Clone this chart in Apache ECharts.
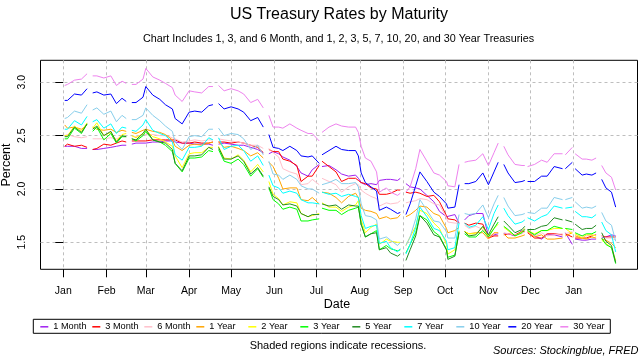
<!DOCTYPE html>
<html>
<head>
<meta charset="utf-8">
<script src="https://cdn.jsdelivr.net/npm/echarts@6/dist/echarts.min.js"></script>
<style>
html,body{margin:0;padding:0;background:#fff;}
#chart{width:640px;height:360px;}
</style>
</head>
<body>
<div id="chart"></div>
<script>
// ---- data ----
const dates = [
'2019-01-02','2019-01-04','2019-01-09','2019-01-14','2019-01-18','2019-01-21','2019-01-22','2019-01-25','2019-01-30','2019-02-04',
'2019-02-08','2019-02-12','2019-02-15','2019-02-18','2019-02-19','2019-02-22','2019-02-27','2019-03-01','2019-03-06','2019-03-11',
'2019-03-15','2019-03-20','2019-03-22','2019-03-27','2019-04-01','2019-04-05','2019-04-10','2019-04-15','2019-04-18','2019-04-19',
'2019-04-22','2019-04-26','2019-05-01','2019-05-06','2019-05-10','2019-05-15','2019-05-20','2019-05-24','2019-05-27','2019-05-28',
'2019-05-31','2019-06-04','2019-06-07','2019-06-12','2019-06-17','2019-06-20','2019-06-25','2019-06-28','2019-07-03','2019-07-04',
'2019-07-05','2019-07-10','2019-07-15','2019-07-19','2019-07-24','2019-07-29','2019-07-31','2019-08-02','2019-08-05','2019-08-09',
'2019-08-13','2019-08-15','2019-08-20','2019-08-23','2019-08-28','2019-08-30','2019-09-02','2019-09-03','2019-09-06','2019-09-10',
'2019-09-13','2019-09-18','2019-09-23','2019-09-27','2019-10-02','2019-10-03','2019-10-08','2019-10-11','2019-10-14','2019-10-15',
'2019-10-18','2019-10-23','2019-10-28','2019-11-01','2019-11-05','2019-11-08','2019-11-11','2019-11-12','2019-11-15','2019-11-20',
'2019-11-25','2019-11-27','2019-11-28','2019-11-29','2019-12-04','2019-12-09','2019-12-13','2019-12-18','2019-12-24','2019-12-25',
'2019-12-26','2019-12-31','2020-01-01','2020-01-02','2020-01-07','2020-01-10','2020-01-14','2020-01-17','2020-01-20','2020-01-21',
'2020-01-24','2020-01-28','2020-01-31'];

const month1 = [2.40,2.40,2.40,2.38,2.38,null,2.37,2.37,2.38,2.39,
2.40,2.41,2.41,null,2.42,2.43,2.43,2.43,2.44,2.44,
2.45,2.45,2.44,2.43,2.43,2.42,2.42,2.42,2.41,null,
2.42,2.43,2.42,2.41,2.41,2.39,2.37,2.34,null,2.33,
2.35,2.33,2.30,2.27,2.21,2.15,2.12,2.18,2.23,null,
2.21,2.22,2.18,2.14,2.12,2.13,2.10,2.06,2.04,2.05,
2.04,2.08,2.09,2.09,2.08,2.10,null,2.05,2.02,2.01,
2.00,1.94,1.88,1.79,1.74,1.74,1.76,1.68,null,1.71,
1.75,1.77,1.77,1.56,1.57,1.58,null,1.58,1.58,1.56,
1.61,1.62,null,1.62,1.56,1.53,1.57,1.57,1.55,null,
1.59,1.48,null,1.53,1.52,1.52,1.53,1.53,null,1.54,
1.55,1.57,1.56];

const month3 = [2.40,2.42,2.40,2.41,2.39,null,2.37,2.38,2.42,2.41,
2.43,2.45,2.44,null,2.45,2.45,2.45,2.45,2.46,2.46,
2.46,2.46,2.46,2.43,2.43,2.44,2.43,2.43,2.44,null,
2.44,2.44,2.43,2.44,2.43,2.41,2.39,2.34,null,2.37,
2.35,2.35,2.28,2.26,2.22,2.07,2.12,2.12,2.22,null,
2.26,2.21,2.16,2.07,2.10,2.10,2.08,2.06,2.05,2.01,
2.00,1.95,1.95,1.96,1.99,1.99,null,1.97,1.96,1.97,
1.96,1.93,1.94,1.88,1.75,1.72,1.71,1.68,null,1.68,
1.66,1.68,1.67,1.54,1.56,1.56,null,1.57,1.58,1.57,
1.60,1.60,null,1.59,1.54,1.54,1.58,1.58,1.57,null,
1.58,1.55,null,1.54,1.54,1.54,1.56,1.57,null,1.56,
1.55,1.55,1.55];

const month6 = [2.50,2.51,2.49,2.48,2.49,null,2.47,2.47,2.47,2.48,
2.47,2.49,2.49,null,2.49,2.49,2.51,2.51,2.51,2.50,
2.50,2.48,2.47,2.44,2.45,2.46,2.45,2.46,2.46,null,
2.47,2.46,2.45,2.44,2.43,2.41,2.41,2.38,null,2.38,
2.34,2.30,2.19,2.16,2.14,2.04,2.05,2.09,2.04,null,
2.10,2.07,2.04,1.97,2.02,2.05,2.04,1.99,1.96,1.93,
1.91,1.84,1.87,1.86,1.87,1.89,null,1.87,1.88,1.89,
1.91,1.90,1.86,1.85,1.73,1.69,1.68,1.68,null,1.66,
1.63,1.65,1.62,1.55,1.58,1.59,null,1.59,1.58,1.57,
1.58,1.60,null,1.60,1.56,1.59,1.56,1.57,1.58,null,
1.58,1.60,null,1.57,1.56,1.56,1.57,1.56,null,1.56,
1.54,1.54,1.52];

const year1 = [2.60,2.57,2.58,2.56,2.60,null,2.58,2.56,2.55,2.56,
2.53,2.55,2.54,null,2.53,2.52,2.55,2.56,2.54,2.53,
2.51,2.46,2.40,2.36,2.41,2.42,2.41,2.43,2.44,null,
2.44,2.39,2.40,2.38,2.36,2.31,2.34,2.29,null,2.25,
2.21,2.10,2.00,2.01,2.01,1.90,1.89,1.92,1.86,null,
1.97,1.96,1.92,1.87,1.93,1.96,1.92,1.82,1.80,1.79,
1.77,1.72,1.74,1.72,1.73,1.76,null,1.74,1.76,1.80,
1.84,1.83,1.77,1.75,1.63,1.59,1.61,1.64,null,1.60,
1.58,1.59,1.59,1.53,1.59,1.59,null,1.58,1.54,1.54,
1.56,1.57,null,1.60,1.55,1.57,1.53,1.53,1.54,null,
1.56,1.59,null,1.56,1.54,1.53,1.55,1.54,null,1.53,
1.52,1.49,1.45];

const year2 = [2.50,2.50,2.59,2.54,2.62,null,2.57,2.62,2.50,2.53,
2.45,2.51,2.52,null,2.50,2.48,2.52,2.55,2.49,2.47,
2.44,2.40,2.31,2.20,2.33,2.34,2.34,2.39,2.39,null,
2.40,2.29,2.28,2.32,2.27,2.16,2.23,2.16,null,2.07,
1.95,1.91,1.85,1.88,1.87,1.77,1.74,1.75,1.77,null,
1.87,1.83,1.83,1.79,1.83,1.85,1.89,1.71,1.59,1.64,
1.67,1.48,1.53,1.51,1.50,1.50,null,1.47,1.55,1.65,
1.80,1.77,1.68,1.63,1.48,1.39,1.43,1.61,null,1.60,
1.58,1.58,1.64,1.56,1.63,1.67,null,1.64,1.61,1.56,
1.60,1.63,null,1.61,1.58,1.61,1.61,1.63,1.63,null,
1.63,1.58,null,1.58,1.54,1.57,1.57,1.56,null,1.52,
1.49,1.45,1.33];

const year3 = [2.47,2.47,2.57,2.52,2.61,null,2.54,2.58,2.46,2.52,
2.43,2.49,2.49,null,2.47,2.45,2.50,2.54,2.46,2.44,
2.41,2.35,2.24,2.16,2.29,2.29,2.30,2.36,2.35,null,
2.37,2.26,2.24,2.28,2.23,2.12,2.19,2.11,null,2.01,
1.90,1.86,1.81,1.83,1.81,1.70,1.70,1.71,1.72,null,
1.82,1.80,1.80,1.76,1.80,1.82,1.83,1.67,1.55,1.58,
1.61,1.43,1.47,1.44,1.42,1.43,null,1.40,1.48,1.59,
1.75,1.71,1.60,1.56,1.43,1.36,1.38,1.59,null,1.58,
1.55,1.55,1.61,1.55,1.63,1.69,null,1.65,1.62,1.56,
1.59,1.62,null,1.61,1.57,1.61,1.61,1.65,1.63,null,
1.63,1.62,null,1.59,1.56,1.58,1.58,1.60,null,1.54,
1.48,1.45,1.30];

const year5 = [2.49,2.49,2.58,2.53,2.61,null,2.56,2.59,2.50,2.54,
2.44,2.50,2.49,null,2.47,2.46,2.52,2.56,2.46,2.44,
2.43,2.37,2.24,2.17,2.31,2.31,2.32,2.39,2.37,null,
2.39,2.28,2.28,2.31,2.26,2.14,2.20,2.12,null,2.02,
1.93,1.90,1.85,1.86,1.84,1.77,1.74,1.76,1.76,null,
1.86,1.84,1.85,1.81,1.85,1.84,1.84,1.67,1.55,1.58,
1.59,1.43,1.45,1.40,1.37,1.39,null,1.33,1.43,1.56,
1.75,1.68,1.57,1.55,1.43,1.34,1.37,1.60,null,1.60,
1.56,1.57,1.65,1.57,1.67,1.74,null,1.70,1.66,1.59,
1.62,1.65,null,1.62,1.62,1.65,1.66,1.73,1.71,null,
1.71,1.69,null,1.67,1.62,1.63,1.63,1.66,null,1.59,
1.51,1.47,1.31];

const year7 = [2.56,2.56,2.64,2.60,2.68,null,2.63,2.65,2.57,2.61,
2.52,2.58,2.57,null,2.55,2.54,2.60,2.65,2.55,2.52,
2.50,2.44,2.32,2.27,2.39,2.39,2.40,2.48,2.46,null,
2.48,2.37,2.40,2.41,2.36,2.26,2.31,2.22,null,2.13,
2.03,2.01,1.96,1.98,1.96,1.90,1.87,1.87,1.86,null,
1.97,1.95,1.96,1.93,1.95,1.93,1.92,1.75,1.63,1.65,
1.66,1.49,1.51,1.45,1.41,1.44,null,1.39,1.48,1.64,
1.83,1.74,1.63,1.61,1.51,1.43,1.45,1.68,null,1.68,
1.64,1.66,1.74,1.62,1.77,1.85,null,1.82,1.75,1.67,
1.69,1.71,null,1.73,1.70,1.74,1.76,1.84,1.82,null,
1.82,1.83,null,1.79,1.74,1.74,1.73,1.76,null,1.69,
1.61,1.57,1.41];

const year10 = [2.66,2.67,2.73,2.71,2.79,null,2.74,2.76,2.70,2.73,
2.63,2.69,2.66,null,2.65,2.65,2.69,2.76,2.69,2.64,
2.59,2.54,2.44,2.37,2.49,2.50,2.49,2.56,2.56,null,
2.57,2.50,2.52,2.51,2.47,2.37,2.41,2.32,null,2.26,
2.14,2.13,2.09,2.13,2.09,2.03,2.00,2.00,1.96,null,
2.04,2.06,2.09,2.05,2.05,2.06,2.02,1.86,1.75,1.74,
1.71,1.53,1.55,1.52,1.47,1.50,null,1.47,1.55,1.72,
1.90,1.80,1.70,1.69,1.60,1.54,1.54,1.76,null,1.77,
1.76,1.77,1.85,1.73,1.86,1.94,null,1.92,1.84,1.75,
1.76,1.77,null,1.78,1.77,1.82,1.82,1.92,1.90,null,
1.90,1.92,null,1.88,1.82,1.83,1.82,1.84,null,1.78,
1.70,1.66,1.51];

const year20 = [2.83,2.83,2.89,2.88,2.94,null,2.90,2.91,2.88,2.89,
2.80,2.85,2.82,null,2.81,2.81,2.86,2.96,2.88,2.84,
2.79,2.75,2.66,2.61,2.72,2.73,2.72,2.78,2.79,null,
2.80,2.75,2.77,2.75,2.72,2.64,2.67,2.58,null,2.51,
2.39,2.38,2.36,2.40,2.36,2.31,2.30,2.31,2.24,null,
2.32,2.36,2.40,2.37,2.36,2.36,2.31,2.15,2.06,2.02,
1.98,1.80,1.83,1.81,1.77,1.78,null,1.76,1.86,2.03,
2.16,2.07,1.97,1.93,1.86,1.82,1.83,2.04,null,2.05,
2.05,2.07,2.15,2.04,2.16,2.25,null,2.23,2.15,2.06,
2.07,2.08,null,2.07,2.07,2.12,2.12,2.21,2.19,null,
2.19,2.25,null,2.19,2.13,2.14,2.13,2.15,null,2.09,
2.01,1.97,1.83];

const year30 = [2.97,2.98,3.02,3.03,3.08,null,3.06,3.06,3.04,3.06,
2.97,3.01,2.99,null,2.98,2.98,3.03,3.13,3.05,3.02,
2.99,2.95,2.88,2.82,2.92,2.91,2.90,2.96,2.96,null,
2.97,2.92,2.94,2.92,2.89,2.81,2.84,2.76,null,2.69,
2.58,2.58,2.57,2.61,2.57,2.55,2.52,2.52,2.45,null,
2.53,2.58,2.61,2.59,2.58,2.58,2.53,2.40,2.29,2.26,
2.16,1.97,2.01,1.97,1.94,1.96,null,1.97,2.02,2.19,
2.37,2.26,2.15,2.13,2.07,2.03,2.02,2.23,null,2.25,
2.26,2.27,2.33,2.22,2.34,2.43,null,2.40,2.32,2.23,
2.22,2.22,null,2.21,2.23,2.27,2.25,2.33,2.33,null,
2.32,2.39,null,2.33,2.28,2.28,2.27,2.29,null,2.22,
2.15,2.11,1.99];

const seriesNames = ['1 Month','3 Month','6 Month','1 Year','2 Year','3 Year','5 Year','7 Year','10 Year','20 Year','30 Year'];
const seriesValues = [month1, month3, month6, year1, year2, year3, year5, year7, year10, year20, year30];
const seriesColors = ['#A020F0','#FF0000','#FFC0CB','#FFA500','#FFFF00','#00FF00','#228B22','#00FFFF','#87CEEB','#0000FF','#EE82EE'];

const monthTickDates = ['2019-01-01','2019-02-01','2019-03-01','2019-04-01','2019-05-01','2019-06-01','2019-07-01',
'2019-08-01','2019-09-01','2019-10-01','2019-11-01','2019-12-01','2020-01-01'];
const monthTickLabels = ['Jan','Feb','Mar','Apr','May','Jun','Jul','Aug','Sep','Oct','Nov','Dec','Jan'];
const yTicks = [1.5, 2.0, 2.5, 3.0];

// ---- build: x values are days since 2019-01-01 ----
const DAY = 86400000;
const origin = Date.UTC(2019, 0, 1);
function dayNum(s){ const p = s.split('-').map(Number); return Math.round((Date.UTC(p[0], p[1]-1, p[2]) - origin) / DAY); }
const dateDays = dates.map(dayNum);
const monthDays = monthTickDates.map(dayNum);
const FONT = '"Liberation Sans", Arial, Helvetica, sans-serif';

const series = seriesNames.map((name, i) => ({
  name: name,
  type: 'line',
  data: dateDays.map((d, k) => [d, seriesValues[i][k] === null ? '-' : seriesValues[i][k]]),
  showSymbol: false,
  symbol: 'none',
  connectNulls: false,
  lineStyle: { width: 1, color: seriesColors[i] },
  itemStyle: { color: seriesColors[i] },
  emphasis: { disabled: true },
  animation: false
}));

const chart = echarts.init(document.getElementById('chart'), null, { renderer: 'canvas' });
chart.setOption({
  animation: false,
  backgroundColor: '#ffffff',
  textStyle: { fontFamily: FONT },
  grid: { left: 40.5, top: 60.3, width: 597, height: 209, show: true, borderColor: '#000', borderWidth: 1, backgroundColor: 'transparent' },
  xAxis: {
    type: 'value',
    min: -16.3,
    max: 410.6,
    axisLine: { show: false },
    axisTick: { show: true, inside: false, length: 8, customValues: monthDays, lineStyle: { color: '#000', width: 1 } },
    axisLabel: {
      show: true, customValues: monthDays, margin: 15.5, color: '#000', fontSize: 10.5, lineHeight: 12, fontFamily: FONT,
      hideOverlap: false,
      formatter: function (v) { const k = monthDays.indexOf(Math.round(v)); return k >= 0 ? monthTickLabels[k] : ''; }
    },
    splitLine: { show: true, lineStyle: { color: '#BEBEBE', width: 1, type: [3, 3] } }
  },
  yAxis: {
    type: 'value',
    min: 1.247,
    max: 3.206,
    axisLine: { show: false },
    axisTick: { show: true, inside: false, length: 8, customValues: yTicks, lineStyle: { color: '#000', width: 1 } },
    axisLabel: {
      show: true, customValues: yTicks, rotate: 90, margin: 12, color: '#000', fontSize: 10.5, lineHeight: 12, fontFamily: FONT,
      formatter: function (v) { return Number(v).toFixed(1); }
    },
    splitLine: { show: true, lineStyle: { color: '#BEBEBE', width: 1, type: [3, 3] } }
  },
  legend: {
    data: seriesNames,
    left: 33.3, top: 319.3,
    orient: 'horizontal',
    selectedMode: false,
    borderColor: '#000', borderWidth: 1, borderRadius: 0,
    padding: [2, 1, 1, 7],
    itemGap: 3, itemWidth: 8, itemHeight: 1.5, itemTextGap: 3,
    icon: 'rect',
    textStyle: { fontSize: 9.2, color: '#000', fontFamily: FONT, width: 36, lineHeight: 11 }
  },
  graphic: [
    { type: 'text', x: 339, y: 15, style: { text: 'US Treasury Rates by Maturity', fill: '#000', font: '16px ' + FONT, textAlign: 'center', textVerticalAlign: 'middle' } },
    { type: 'text', x: 338.5, y: 39.5, style: { text: 'Chart Includes 1, 3, and 6 Month, and 1, 2, 3, 5, 7, 10, 20, and 30 Year Treasuries', fill: '#000', font: '10.8px ' + FONT, textAlign: 'center', textVerticalAlign: 'middle' } },
    { type: 'text', x: 337, y: 305, style: { text: 'Date', fill: '#000', font: '12.5px ' + FONT, textAlign: 'center', textVerticalAlign: 'middle' } },
    { type: 'text', x: 7, y: 165, rotation: Math.PI / 2, style: { text: 'Percent', fill: '#000', font: '12.5px ' + FONT, textAlign: 'center', textVerticalAlign: 'middle' } },
    { type: 'text', x: 338, y: 346, style: { text: 'Shaded regions indicate recessions.', fill: '#000', font: '11px ' + FONT, textAlign: 'center', textVerticalAlign: 'middle' } },
    { type: 'text', x: 638.5, y: 351, style: { text: 'Sources: Stockingblue, FRED', fill: '#000', font: 'italic 11px ' + FONT, textAlign: 'right', textVerticalAlign: 'middle' } }
  ],
  series: series
});
</script>
</body>
</html>
